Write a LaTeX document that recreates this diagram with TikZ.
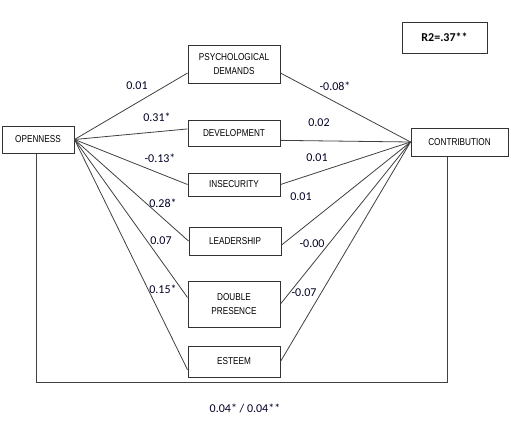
\documentclass[tikz,border=0pt]{standalone}
\usepackage{fontspec}
\setmainfont{Liberation Sans}
\newfontfamily\boxfont[FakeStretch=0.82]{Liberation Sans}
\newfontfamily\labfont{Carlito}
\begin{document}
\begin{tikzpicture}[x=1pt,y=-1pt,
  varbox/.style={draw=black!80,line width=1pt,fill=white,inner sep=0pt,align=center,
    font=\boxfont\fontsize{10}{14}\selectfont},
  conn/.style={draw=black!75,line width=0.8pt},
  lab/.style={font=\labfont\fontsize{12}{14}\selectfont,text=black!85!blue,inner sep=1pt}]
\useasboundingbox (0,0) rectangle (511,423);
% variables
\node[varbox,minimum width=72pt,minimum height=27pt] (open) at (38,139.5) {OPENNESS};
\node[varbox,minimum width=92pt,minimum height=38pt] (pd) at (234,64) {PSYCHOLOGICAL\\DEMANDS};
\node[varbox,minimum width=92pt,minimum height=26pt] (dev) at (234,133) {DEVELOPMENT};
\node[varbox,minimum width=92pt,minimum height=23pt] (ins) at (234,184.5) {INSECURITY};
\node[varbox,minimum width=92pt,minimum height=28pt] (lead) at (235,241) {LEADERSHIP};
\node[varbox,minimum width=92pt,minimum height=46pt] (dp) at (234,304) {DOUBLE\\PRESENCE};
\node[varbox,minimum width=92pt,minimum height=31pt] (est) at (234,361.5) {ESTEEM};
\node[varbox,minimum width=97pt,minimum height=28pt] (con) at (459.5,142) {CONTRIBUTION};
\node[varbox,minimum width=85pt,minimum height=31pt,font=\labfont\bfseries\fontsize{12}{14}\selectfont] (r2) at (444.5,37.5) {R2=.37**};
% connectors from OPENNESS
\draw[conn] (open.east) -- (pd.191);
\draw[conn] (open.east) -- (dev.175);
\draw[conn] (open.east) -- (ins.west);
\draw[conn] (open.east) -- (lead.west);
\draw[conn] (open.east) -- (dp.172.6);
\draw[conn] (open.east) -- (est.190.5);
% connectors to CONTRIBUTION
\draw[conn] (pd.349) -- (con.west);
\draw[conn] (dev.351) -- (con.west);
\draw[conn] (ins.east) -- (con.west);
\draw[conn] (lead.355) -- (con.west);
\draw[conn] (dp.east) -- (con.west);
\draw[conn] (est.east) -- (con.west);
% direct path
\coordinate (corner) at (447,382);
\draw[conn] ([xshift=-2pt]open.south) |- (corner) -- ([xshift=-12.5pt]con.south);
% labels
\node[lab] (l1) at (137,86) {0.01};
\node[lab] (l2) at (157,117) {0.31*};
\node[lab] (l3) at (160,158) {-0.13*};
\node[lab] (l4) at (163,203) {0.28*};
\node[lab] (l5) at (161,241) {0.07};
\node[lab] (l6) at (163,289) {0.15*};
\node[lab] (r1) at (335,86) {-0.08*};
\node[lab] (r2l) at (319,123) {0.02};
\node[lab] (r3) at (317,158) {0.01};
\node[lab] (r4) at (301,197) {0.01};
\node[lab] (r5) at (312,244) {-0.00};
\node[lab] (r6) at (304,293) {-0.07};
\node[lab] (dir) at (245,408) {0.04* / 0.04**};
\end{tikzpicture}
\end{document}
